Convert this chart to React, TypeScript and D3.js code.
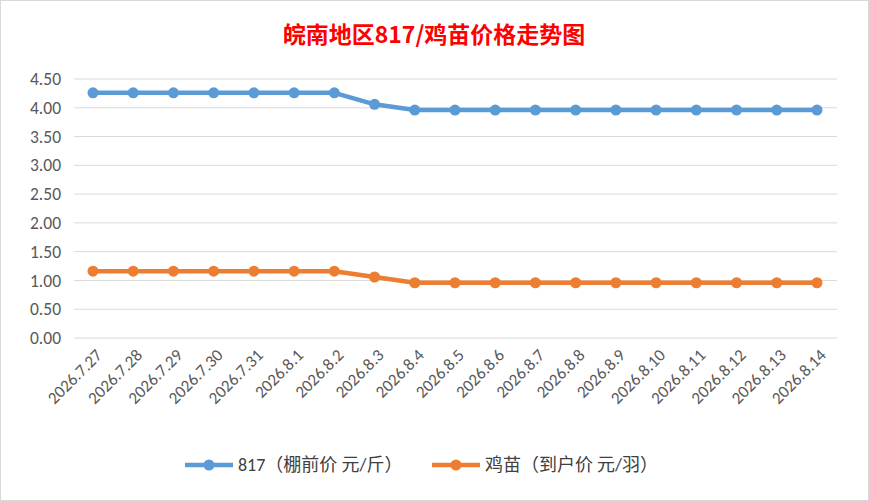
import React from 'react';
import * as d3 from 'd3';

const dates = ['2026.7.27','2026.7.28','2026.7.29','2026.7.30','2026.7.31','2026.8.1','2026.8.2','2026.8.3','2026.8.4','2026.8.5','2026.8.6','2026.8.7','2026.8.8','2026.8.9','2026.8.10','2026.8.11','2026.8.12','2026.8.13','2026.8.14'];
const broiler = [4.26,4.26,4.26,4.26,4.26,4.26,4.26,4.06,3.96,3.96,3.96,3.96,3.96,3.96,3.96,3.96,3.96,3.96,3.96];
const chick = [1.16,1.16,1.16,1.16,1.16,1.16,1.16,1.06,0.96,0.96,0.96,0.96,0.96,0.96,0.96,0.96,0.96,0.96,0.96];
const yTicks = [0,0.5,1,1.5,2,2.5,3,3.5,4,4.5];
const seriesNames = ['817（棚前价 元/斤）', '鸡苗（到户价 元/羽）'];
const colors = ['#5b9bd5', '#ed7d31'];

export default function App() {
  const W = 869, H = 501;
  const x = d3.scalePoint().domain(dates).range([93, 817]);
  const y = d3.scaleLinear().domain([0, 4.5]).range([338, 79]);
  const line = d3.line<number>().x((_, i) => x(dates[i])!).y(d => y(d));
  const font = 'Calibri, "Noto Sans CJK SC", "Liberation Sans", sans-serif';
  return (
    <div style={{ position: 'absolute', left: 0, top: 0 }}>
      <svg width={W} height={H} style={{ display: 'block', background: '#fff' }}>
        <rect x={0.5} y={0.5} width={W - 1} height={H - 1} fill="none" stroke="#d9d9d9" />
        <text x={434} y={43} textAnchor="middle" fill="#ff0000" fontSize={23} fontWeight="bold" fontFamily='"Noto Sans CJK SC", sans-serif'>皖南地区817/鸡苗价格走势图</text>
        {yTicks.map(t => (
          <g key={t}>
            <line x1={74} x2={837} y1={y(t)} y2={y(t)} stroke="#d9d9d9" />
            <text x={61} y={y(t)} dy="0.35em" textAnchor="end" fontSize={17.5} fill="#595959" fontFamily={font}>{t.toFixed(2)}</text>
          </g>
        ))}
        {dates.map(d => (
          <text key={d} transform={`translate(${x(d)! + 6},${352}) rotate(-45)`} textAnchor="end" dy="0.35em" fontSize={17} fill="#595959" fontFamily={font}>{d}</text>
        ))}
        {[broiler, chick].map((s, k) => (
          <g key={k}>
            <path d={line(s)!} fill="none" stroke={colors[k]} strokeWidth={4.5} strokeLinejoin="round" />
            {s.map((v, i) => <circle key={i} cx={x(dates[i])} cy={y(v)} r={5.5} fill={colors[k]} />)}
          </g>
        ))}
        {seriesNames.map((n, k) => {
          const lx = k === 0 ? 185 : 432;
          return (
            <g key={n}>
              <line x1={lx} x2={lx + 48} y1={465} y2={465} stroke={colors[k]} strokeWidth={4.5} />
              <circle cx={lx + 24} cy={465} r={5.5} fill={colors[k]} />
              <text x={lx + 53} y={465} dy="0.35em" fontSize={18} fill="#404040" fontFamily={font}>{n}</text>
            </g>
          );
        })}
      </svg>
    </div>
  );
}
